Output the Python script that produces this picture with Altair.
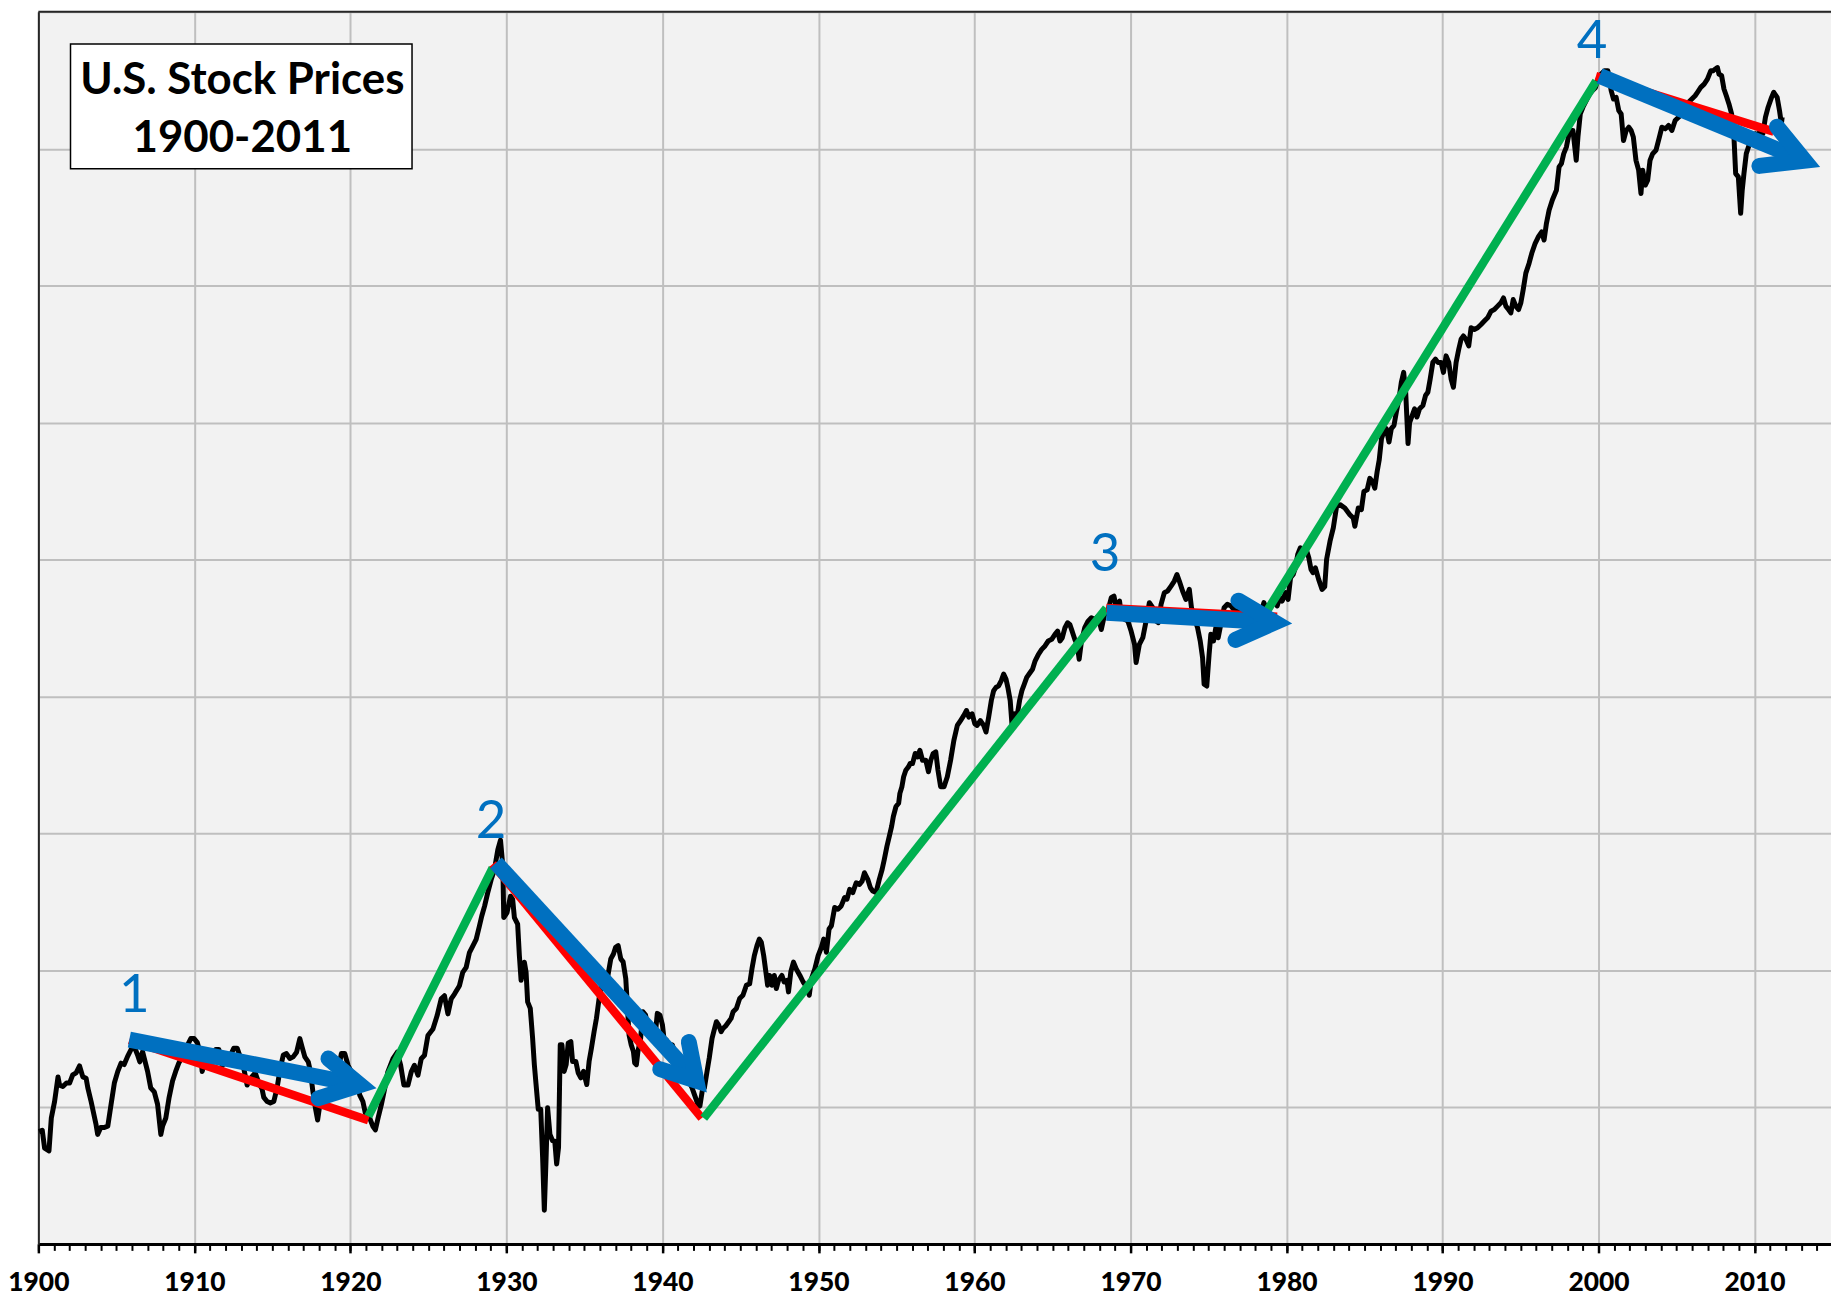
import altair as alt
import pandas as pd

# ---------------------------------------------------------------
# Black price line read off the (log-scaled) chart.
# Each pair: (year, level) where level = position in gridline units
# above the x axis (each horizontal gridline = one level).
# ---------------------------------------------------------------
prices_1900_1915 = [
    (1900.04, 0.82), (1900.25, 0.83), (1900.4, 0.70), (1900.68, 0.68), (1900.83, 0.92),
    (1901.04, 1.04), (1901.26, 1.22), (1901.36, 1.16), (1901.57, 1.15), (1901.8, 1.175),
    (1902.0, 1.175), (1902.2, 1.235), (1902.42, 1.25), (1902.64, 1.30), (1902.85, 1.22),
    (1903.06, 1.21), (1903.17, 1.14), (1903.38, 1.04), (1903.7, 0.87), (1903.8, 0.80),
    (1904.0, 0.85), (1904.2, 0.85), (1904.45, 0.86), (1904.66, 1.02), (1904.87, 1.175),
    (1905.09, 1.26), (1905.3, 1.32), (1905.5, 1.31), (1905.72, 1.37), (1905.94, 1.42),
    (1906.15, 1.44), (1906.36, 1.38), (1906.5, 1.33), (1906.68, 1.405), (1907.0, 1.26),
    (1907.2, 1.14), (1907.43, 1.11), (1907.64, 1.02), (1907.85, 0.80), (1907.96, 0.86),
    (1908.17, 0.92), (1908.38, 1.07), (1908.6, 1.19), (1908.8, 1.26), (1909.0, 1.32),
    (1909.23, 1.37), (1909.55, 1.45), (1909.77, 1.50), (1909.98, 1.50), (1910.19, 1.47),
    (1910.4, 1.38), (1910.5, 1.26), (1910.72, 1.36), (1911.04, 1.33), (1911.36, 1.42),
    (1911.57, 1.42), (1911.79, 1.30), (1912.0, 1.345), (1912.32, 1.38), (1912.53, 1.43),
    (1912.74, 1.43), (1912.96, 1.36), (1913.17, 1.28), (1913.38, 1.16), (1913.6, 1.21),
    (1913.9, 1.25), (1914.13, 1.175), (1914.34, 1.13), (1914.45, 1.07), (1914.66, 1.04),
    (1914.87, 1.03), (1915.09, 1.04), (1915.3, 1.14), (1915.5, 1.28),
]

prices_1915_1929 = [
    (1915.7, 1.38), (1915.9, 1.39), (1916.12, 1.354), (1916.33, 1.366), (1916.55, 1.40),
    (1916.76, 1.50), (1916.9, 1.44), (1917.08, 1.366), (1917.3, 1.33), (1917.44, 1.257),
    (1917.6, 1.11), (1917.76, 0.99), (1917.9, 0.905), (1918.04, 1.015), (1918.25, 1.04),
    (1918.57, 1.063), (1918.9, 1.087), (1919.2, 1.257), (1919.42, 1.39), (1919.64, 1.39),
    (1919.85, 1.305), (1920.06, 1.257), (1920.28, 1.232), (1920.5, 1.136), (1920.6, 1.087),
    (1920.8, 1.04), (1920.96, 0.954), (1921.24, 0.918), (1921.45, 0.857), (1921.6, 0.833),
    (1921.77, 0.918), (1921.98, 1.015), (1922.2, 1.136), (1922.4, 1.257), (1922.73, 1.353),
    (1923.0, 1.40), (1923.22, 1.305), (1923.43, 1.16), (1923.69, 1.16), (1923.9, 1.257),
    (1924.1, 1.305), (1924.33, 1.232), (1924.54, 1.353), (1924.75, 1.378), (1924.97, 1.523),
    (1925.29, 1.57), (1925.56, 1.668), (1925.82, 1.79), (1926.03, 1.813), (1926.25, 1.68),
    (1926.46, 1.79), (1926.67, 1.825), (1926.99, 1.886), (1927.2, 1.983), (1927.42, 2.02),
    (1927.63, 2.128), (1927.85, 2.177), (1928.06, 2.225), (1928.27, 2.322), (1928.42, 2.395),
    (1928.6, 2.467), (1928.8, 2.564), (1929.02, 2.66), (1929.23, 2.734), (1929.45, 2.879),
]

prices_1929_1948 = [
    (1929.62, 2.95), (1929.77, 2.76), (1929.83, 2.384), (1930.04, 2.42), (1930.26, 2.54),
    (1930.4, 2.517), (1930.51, 2.384), (1930.72, 2.336), (1930.83, 2.106), (1930.94, 1.925),
    (1931.15, 2.058), (1931.26, 1.985), (1931.36, 1.768), (1931.53, 1.72), (1931.68, 1.50),
    (1931.79, 1.309), (1931.9, 1.164), (1932.04, 0.983), (1932.2, 0.983), (1932.32, 0.633),
    (1932.43, 0.246), (1932.53, 0.584), (1932.64, 0.995), (1932.79, 0.80), (1932.96, 0.754),
    (1933.1, 0.75), (1933.22, 0.584), (1933.34, 0.705), (1933.45, 1.454), (1933.56, 1.454),
    (1933.7, 1.26), (1933.83, 1.31), (1933.96, 1.466), (1934.13, 1.478), (1934.24, 1.333),
    (1934.45, 1.333), (1934.6, 1.25), (1934.77, 1.213), (1934.94, 1.26), (1935.15, 1.164),
    (1935.3, 1.333), (1935.45, 1.43), (1935.62, 1.55), (1935.77, 1.647), (1935.94, 1.792),
    (1936.1, 1.889), (1936.26, 1.937), (1936.47, 1.937), (1936.69, 2.082), (1936.86, 2.118),
    (1937.0, 2.167), (1937.16, 2.179), (1937.33, 2.082), (1937.48, 2.06), (1937.65, 1.937),
    (1937.75, 1.744), (1937.86, 1.527), (1938.0, 1.454), (1938.14, 1.406), (1938.22, 1.321),
    (1938.33, 1.309), (1938.43, 1.406), (1938.6, 1.50), (1938.75, 1.696), (1938.92, 1.671),
    (1939.1, 1.55), (1939.24, 1.575), (1939.41, 1.527), (1939.56, 1.55), (1939.67, 1.684),
    (1939.84, 1.671), (1940.0, 1.60), (1940.1, 1.50), (1940.25, 1.49), (1940.41, 1.406),
    (1940.63, 1.454), (1940.84, 1.382), (1941.05, 1.333), (1941.27, 1.309), (1941.48, 1.237),
    (1941.69, 1.188), (1941.9, 1.14), (1942.12, 1.068), (1942.27, 1.019), (1942.4, 1.007),
    (1942.55, 1.116), (1942.69, 1.14), (1942.86, 1.261), (1943.0, 1.357), (1943.18, 1.502),
    (1943.29, 1.55), (1943.46, 1.623), (1943.6, 1.60), (1943.76, 1.55), (1943.89, 1.575),
    (1944.04, 1.59), (1944.25, 1.623), (1944.4, 1.647), (1944.53, 1.696), (1944.74, 1.72),
    (1944.95, 1.792), (1945.16, 1.816), (1945.38, 1.889), (1945.59, 1.90), (1945.74, 2.01),
    (1945.89, 2.106), (1946.06, 2.179), (1946.21, 2.227), (1946.34, 2.203), (1946.49, 2.106),
    (1946.66, 1.961), (1946.74, 1.889), (1946.87, 1.961), (1947.02, 1.889), (1947.17, 1.961),
    (1947.3, 1.865), (1947.44, 1.925), (1947.66, 1.961), (1947.8, 1.913), (1947.98, 1.925),
    (1948.08, 1.841), (1948.23, 1.988), (1948.4, 2.058), (1948.57, 2.01),
]

prices_1948_1968 = [
    (1948.81, 1.961), (1949.02, 1.913), (1949.24, 1.877), (1949.41, 1.816), (1949.55, 1.937),
    (1949.77, 2.009), (1949.98, 2.106), (1950.19, 2.167), (1950.34, 2.227), (1950.51, 2.13),
    (1950.68, 2.30), (1950.83, 2.324), (1951.04, 2.457), (1951.25, 2.445), (1951.46, 2.469),
    (1951.68, 2.53), (1951.83, 2.518), (1952.0, 2.59), (1952.2, 2.566), (1952.42, 2.638),
    (1952.63, 2.626), (1952.8, 2.65), (1952.95, 2.711), (1953.16, 2.663), (1953.33, 2.602),
    (1953.48, 2.578), (1953.69, 2.566), (1953.9, 2.663), (1954.08, 2.735), (1954.22, 2.808),
    (1954.39, 2.905), (1954.54, 2.977), (1954.69, 3.05), (1954.8, 3.122), (1954.97, 3.195),
    (1955.14, 3.219), (1955.22, 3.291), (1955.35, 3.34), (1955.46, 3.412), (1955.6, 3.46),
    (1955.77, 3.485), (1955.88, 3.509), (1956.03, 3.509), (1956.2, 3.582), (1956.35, 3.557),
    (1956.5, 3.606), (1956.67, 3.533), (1956.88, 3.533), (1957.05, 3.449), (1957.2, 3.533),
    (1957.35, 3.582), (1957.52, 3.594), (1957.66, 3.461), (1957.83, 3.34), (1958.05, 3.34),
    (1958.26, 3.412), (1958.47, 3.533), (1958.68, 3.678), (1958.9, 3.787), (1959.11, 3.823),
    (1959.32, 3.86), (1959.49, 3.896), (1959.64, 3.848), (1959.85, 3.872), (1960.02, 3.80),
    (1960.17, 3.787), (1960.38, 3.823), (1960.59, 3.787), (1960.74, 3.739), (1960.91, 3.848),
    (1961.08, 3.969), (1961.23, 4.041), (1961.38, 4.065), (1961.55, 4.077), (1961.72, 4.114),
    (1961.87, 4.162), (1962.02, 4.126), (1962.14, 4.065), (1962.29, 3.969), (1962.4, 3.80),
    (1962.57, 3.872), (1962.72, 3.848), (1962.89, 3.969), (1963.04, 4.041), (1963.2, 4.09),
    (1963.35, 4.138), (1963.57, 4.174), (1963.72, 4.198), (1963.89, 4.259), (1964.1, 4.307),
    (1964.31, 4.343), (1964.52, 4.368), (1964.73, 4.404), (1964.95, 4.416), (1965.16, 4.452),
    (1965.33, 4.476), (1965.48, 4.404), (1965.63, 4.428), (1965.8, 4.501), (1965.97, 4.537),
    (1966.11, 4.525), (1966.26, 4.476), (1966.43, 4.416), (1966.58, 4.38), (1966.71, 4.271),
    (1966.86, 4.404), (1967.07, 4.501), (1967.28, 4.549), (1967.49, 4.573), (1967.71, 4.561),
    (1967.92, 4.585), (1968.13, 4.488), (1968.34, 4.597),
]

prices_1968_1982 = [
    (1968.55, 4.623), (1968.77, 4.72), (1968.94, 4.732), (1969.09, 4.647), (1969.3, 4.696),
    (1969.4, 4.60), (1969.62, 4.562), (1969.83, 4.55), (1970.04, 4.477), (1970.26, 4.38),
    (1970.36, 4.246), (1970.57, 4.38), (1970.79, 4.428), (1971.0, 4.55), (1971.21, 4.684),
    (1971.43, 4.647), (1971.64, 4.55), (1971.79, 4.538), (1971.96, 4.672), (1972.17, 4.757),
    (1972.38, 4.769), (1972.6, 4.805), (1972.81, 4.842), (1972.98, 4.89), (1973.13, 4.842),
    (1973.34, 4.769), (1973.55, 4.708), (1973.77, 4.781), (1973.91, 4.647), (1974.09, 4.574),
    (1974.3, 4.501), (1974.47, 4.404), (1974.62, 4.282), (1974.72, 4.088), (1974.89, 4.075),
    (1975.04, 4.307), (1975.15, 4.453), (1975.32, 4.404), (1975.47, 4.501), (1975.62, 4.428),
    (1975.79, 4.526), (1976.0, 4.647), (1976.21, 4.672), (1976.45, 4.66), (1976.7, 4.62),
    (1976.95, 4.63), (1977.2, 4.58), (1977.45, 4.55), (1977.7, 4.52), (1977.95, 4.48),
    (1978.15, 4.50), (1978.35, 4.60), (1978.55, 4.684), (1978.77, 4.623), (1978.98, 4.65),
    (1979.19, 4.696), (1979.4, 4.66), (1979.57, 4.72), (1979.72, 4.696), (1979.94, 4.757),
    (1980.1, 4.708), (1980.26, 4.866), (1980.43, 4.89), (1980.57, 4.939), (1980.72, 5.036),
    (1980.89, 5.085), (1981.11, 5.06), (1981.3, 5.06), (1981.43, 5.012), (1981.57, 4.927),
    (1981.7, 4.903), (1981.85, 4.939), (1982.06, 4.854), (1982.28, 4.781), (1982.45, 4.80),
]

prices_1982_1997 = [
    (1982.57, 5.0), (1982.79, 5.133), (1983.0, 5.23), (1983.21, 5.387), (1983.43, 5.4),
    (1983.74, 5.375), (1984.06, 5.327), (1984.28, 5.302), (1984.38, 5.242), (1984.6, 5.375),
    (1984.8, 5.363), (1984.96, 5.496), (1985.17, 5.508), (1985.34, 5.592), (1985.51, 5.568),
    (1985.66, 5.52), (1985.81, 5.641), (1985.94, 5.725), (1986.09, 5.883), (1986.23, 5.93),
    (1986.4, 5.955), (1986.57, 5.858), (1986.72, 5.955), (1986.89, 5.979), (1987.04, 6.076),
    (1987.21, 6.173), (1987.36, 6.293), (1987.51, 6.366), (1987.64, 6.221), (1987.79, 5.846),
    (1987.89, 6.0), (1988.06, 6.052), (1988.21, 6.1), (1988.36, 6.04), (1988.53, 6.1),
    (1988.74, 6.124), (1988.91, 6.197), (1989.06, 6.221), (1989.21, 6.318), (1989.38, 6.439),
    (1989.55, 6.463), (1989.7, 6.439), (1989.91, 6.439), (1990.06, 6.366), (1990.23, 6.487),
    (1990.4, 6.439), (1990.55, 6.318), (1990.7, 6.257), (1990.87, 6.439), (1991.04, 6.535),
    (1991.19, 6.608), (1991.34, 6.632), (1991.5, 6.608), (1991.68, 6.56), (1991.83, 6.692),
    (1992.04, 6.68), (1992.25, 6.692), (1992.47, 6.716), (1992.68, 6.741), (1992.89, 6.765),
    (1993.11, 6.813), (1993.32, 6.825), (1993.53, 6.85), (1993.74, 6.874), (1993.91, 6.91),
    (1994.06, 6.85), (1994.23, 6.825), (1994.38, 6.801), (1994.53, 6.898), (1994.7, 6.85),
    (1994.87, 6.825), (1995.02, 6.874), (1995.17, 6.97), (1995.34, 7.091), (1995.55, 7.164),
    (1995.72, 7.236), (1995.94, 7.309), (1996.15, 7.357), (1996.36, 7.393), (1996.51, 7.333),
    (1996.66, 7.454), (1996.83, 7.55),
]

prices_1997_2011 = [
    (1997.04, 7.625), (1997.3, 7.697), (1997.47, 7.867), (1997.62, 7.891), (1997.77, 7.964),
    (1997.94, 8.012), (1998.15, 8.133), (1998.36, 8.133), (1998.57, 7.915), (1998.68, 8.085),
    (1998.83, 8.254), (1999.0, 8.303), (1999.21, 8.351), (1999.43, 8.40), (1999.6, 8.424),
    (1999.81, 8.448), (1999.96, 8.508), (2000.17, 8.545), (2000.38, 8.569), (2000.6, 8.569),
    (2000.81, 8.424), (2000.96, 8.363), (2001.13, 8.375), (2001.3, 8.278), (2001.45, 8.254),
    (2001.6, 8.06), (2001.77, 8.133), (2001.94, 8.157), (2002.09, 8.133), (2002.23, 8.085),
    (2002.4, 7.915), (2002.57, 7.843), (2002.72, 7.673), (2002.83, 7.843), (2003.0, 7.734),
    (2003.15, 7.77), (2003.3, 7.915), (2003.47, 7.964), (2003.68, 7.988), (2003.9, 8.085),
    (2004.06, 8.157), (2004.28, 8.145), (2004.49, 8.17), (2004.7, 8.133), (2004.91, 8.206),
    (2005.13, 8.23), (2005.34, 8.254), (2005.55, 8.303), (2005.77, 8.339), (2005.98, 8.363),
    (2006.19, 8.387), (2006.34, 8.412), (2006.55, 8.448), (2006.77, 8.472), (2006.98, 8.508),
    (2007.19, 8.569), (2007.34, 8.569), (2007.47, 8.581), (2007.62, 8.593), (2007.72, 8.545),
    (2007.89, 8.533), (2008.04, 8.436), (2008.19, 8.387), (2008.36, 8.327), (2008.53, 8.254),
    (2008.68, 8.085), (2008.79, 7.818), (2008.96, 7.794), (2009.11, 7.528), (2009.21, 7.697),
    (2009.32, 7.818), (2009.47, 7.964), (2009.64, 8.024), (2009.85, 8.085), (2010.06, 8.109),
    (2010.22, 8.10), (2010.38, 8.133), (2010.53, 8.109), (2010.7, 8.23), (2010.87, 8.303),
    (2011.09, 8.375), (2011.23, 8.412), (2011.45, 8.375), (2011.6, 8.278), (2011.72, 8.182),
    (2011.77, 8.23),
]

# Red (falling) and green (rising) trend lines: id, kind, (year, level) endpoints
trend_ids = ["r1", "g1", "r2", "g2", "r3", "g3", "r4"]
trend_kinds = ["fall", "rise", "fall", "rise", "fall", "rise", "fall"]
trend_start = [(1905.83, 1.489), (1921.15, 0.931), (1929.12, 2.775), (1942.65, 0.919),
               (1968.45, 4.645), (1978.74, 4.622), (1999.83, 8.53)]
trend_end = [(1921.15, 0.904), (1929.12, 2.747), (1942.52, 0.919), (1968.45, 4.645),
             (1979.4, 4.582), (1999.85, 8.495), (2011.23, 8.125)]

# Blue arrows: shaft start, arrow tip, and the two arrowhead arm ends
arrow_ids = ["1", "2", "3", "4"]
arrow_start = [(1905.83, 1.492), (1929.33, 2.783), (1968.47, 4.61), (2000.07, 8.532)]
arrow_tip = [(1920.63, 1.160), (1942.18, 1.192), (1979.26, 4.540), (2013.22, 7.912)]
arrow_arm_up = [(1918.59, 1.354), (1941.69, 1.475), (1976.92, 4.699), (2011.44, 8.161)]
arrow_arm_down = [(1917.95, 1.064), (1939.86, 1.276), (1976.73, 4.412), (2010.31, 7.874)]

# Blue number labels (baseline positions)
label_text = ["1", "2", "3", "4"]
label_year = [1906.15, 1929.02, 1968.37, 1999.59]
label_level = [1.694, 2.964, 4.918, 8.665]

# Title box
title_lines = ["U.S. Stock Prices", "1900-2011"]
title_year = 1913.07
title_levels = [8.399, 7.977]
box_years = (1902.06, 1923.95)
box_levels = (7.854, 8.765)

major_years = list(range(1900, 2011, 10))
minor_years = list(range(1900, 2015))

# ---------------------------------------------------------------
rows = []
for block in [prices_1900_1915, prices_1915_1929, prices_1929_1948, prices_1948_1968,
              prices_1968_1982, prices_1982_1997, prices_1997_2011]:
    rows.extend(block)
price = pd.DataFrame({"year": [r[0] for r in rows], "level": [r[1] for r in rows]})
price["i"] = range(len(price))

trend_rows = []
for tid, kind, s, e in zip(trend_ids, trend_kinds, trend_start, trend_end):
    trend_rows.append({"seg": tid, "kind": kind, "year": s[0], "level": s[1], "i": 0})
    trend_rows.append({"seg": tid, "kind": kind, "year": e[0], "level": e[1], "i": 1})
trend = pd.DataFrame(trend_rows)

shaft_rows, head_rows = [], []
for aid, s, t, up, dn in zip(arrow_ids, arrow_start, arrow_tip, arrow_arm_up, arrow_arm_down):
    shaft_rows.append({"arrow": aid, "year": s[0], "level": s[1], "i": 0})
    shaft_rows.append({"arrow": aid, "year": t[0], "level": t[1], "i": 1})
    head_rows.append({"arrow": aid, "year": up[0], "level": up[1], "i": 0})
    head_rows.append({"arrow": aid, "year": t[0], "level": t[1], "i": 1})
    head_rows.append({"arrow": aid, "year": dn[0], "level": dn[1], "i": 2})
shafts = pd.DataFrame(shaft_rows)
heads = pd.DataFrame(head_rows)

labels = pd.DataFrame({"text": label_text, "year": label_year, "level": label_level})
titles = pd.DataFrame({"text": title_lines, "year": [title_year] * 2, "level": title_levels})
box = pd.DataFrame({"x1": [box_years[0]], "x2": [box_years[1]],
                    "level": [box_levels[0]], "y2": [box_levels[1]]})
top = pd.DataFrame({"level": [9]})

XMAX = 2014.9
xscale = alt.Scale(domain=[1900, XMAX], nice=False, zero=False)
yscale = alt.Scale(domain=[0, 9], nice=False, zero=False)

GRID = "#bfbfbf"
BORDER = "#262626"
BLUE = "#0070c0"

major_axis = alt.Axis(
    orient="bottom", values=major_years, format="d", title=None,
    tickSize=9, tickWidth=2.5, tickColor="black",
    domainColor="black", domainWidth=3,
    labelFont="Lato", labelFontWeight=900, labelFontSize=26.5, labelColor="black",
    labelFlush=False, labelOverlap=False, labelBaseline="alphabetic", labelPadding=37.5,
    grid=True, gridColor=GRID, gridWidth=2,
)
minor_axis = alt.Axis(
    orient="bottom", values=minor_years, title=None, labels=False, domain=False,
    grid=False, tickSize=6.5, tickWidth=2, tickColor="black",
)
y_axis = alt.Axis(
    orient="left", values=list(range(0, 10)), title=None, labels=False, ticks=False,
    domain=True, domainColor=BORDER, domainWidth=2,
    grid=True, gridColor=GRID, gridWidth=2,
)

Y = alt.Y("level:Q", scale=yscale, axis=y_axis)

price_line = alt.Chart(price).mark_line(color="black", strokeWidth=5, strokeJoin="round").encode(
    x=alt.X("year:Q", scale=xscale, axis=major_axis),
    y=Y,
    order="i:Q",
)

trend_lines = alt.Chart(trend).mark_line(strokeWidth=8.5, strokeCap="butt").encode(
    x=alt.X("year:Q", scale=xscale, axis=minor_axis),
    y=Y,
    color=alt.Color("kind:N", scale=alt.Scale(domain=["fall", "rise"],
                                             range=["#ff0000", "#00b050"]), legend=None),
    detail="seg:N",
    order="i:Q",
)

shaft_lines = alt.Chart(shafts).mark_line(color=BLUE, strokeWidth=16, strokeCap="butt").encode(
    x=alt.X("year:Q", scale=xscale, axis=None),
    y=Y,
    detail="arrow:N",
    order="i:Q",
)

head_lines = alt.Chart(heads).mark_line(color=BLUE, strokeWidth=16, strokeCap="round",
                                        strokeJoin="miter", strokeMiterLimit=10).encode(
    x=alt.X("year:Q", scale=xscale, axis=None),
    y=Y,
    detail="arrow:N",
    order="i:Q",
)

number_text = alt.Chart(labels).mark_text(
    font="Lato", fontSize=53, color=BLUE, align="center", baseline="alphabetic"
).encode(
    x=alt.X("year:Q", scale=xscale, axis=None),
    y=Y,
    text="text:N",
)

title_box = alt.Chart(box).mark_rect(fill="white", stroke="black", strokeWidth=1.5).encode(
    x=alt.X("x1:Q", scale=xscale, axis=None), x2="x2:Q",
    y=Y, y2="y2:Q",
)

title_text = alt.Chart(titles).mark_text(
    font="Lato", fontWeight="bold", fontSize=44, color="black",
    align="center", baseline="alphabetic"
).encode(
    x=alt.X("year:Q", scale=xscale, axis=None),
    y=Y,
    text="text:N",
)

top_border = alt.Chart(top).mark_rule(color=BORDER, strokeWidth=2).encode(y=Y)

chart = alt.layer(
    price_line, trend_lines, shaft_lines, head_lines, number_text,
    title_box, title_text, top_border,
).resolve_axis(x="independent", y="shared").properties(
    width=1800.5, height=1237.5,
    autosize=alt.AutoSizeParams(type="none"),
    padding={"left": 30.5, "top": 1, "right": 0, "bottom": 49},
    background="white",
).configure_view(fill="#f2f2f2", stroke=None)

chart.save("out.html", embed_options={"renderer": "svg", "actions": False})
